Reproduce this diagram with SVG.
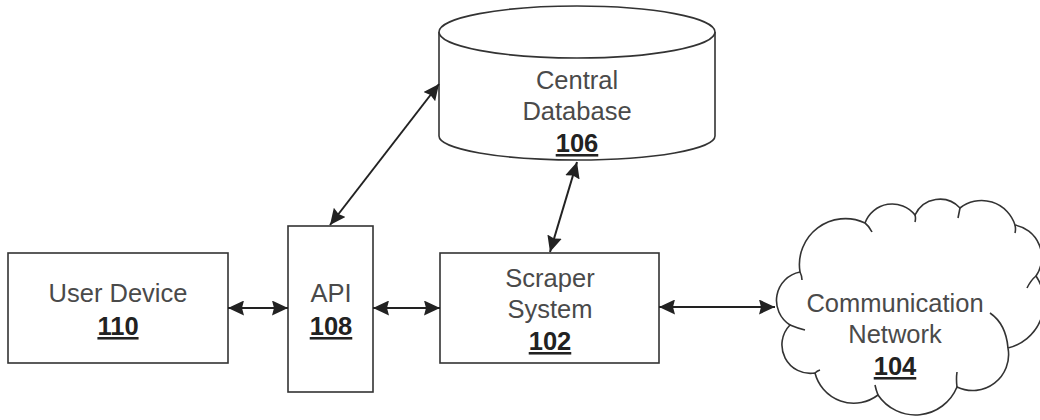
<svg xmlns="http://www.w3.org/2000/svg" width="1040" height="420" viewBox="0 0 1040 420">
<style>
.box{fill:#fff;stroke:#333;stroke-width:1.6}
.hook{fill:none;stroke:#333;stroke-width:1.6}
.lbl{font-family:"Liberation Sans",Arial,sans-serif;font-size:25.5px;fill:#4a4a4a;text-anchor:middle}
.num{font-family:"Liberation Sans",Arial,sans-serif;font-size:25.5px;font-weight:bold;fill:#222;text-anchor:middle;text-decoration:underline}
.conn{stroke:#222;stroke-width:2;fill:none;marker-start:url(#ah);marker-end:url(#ah)}
</style>
<defs>
<marker id="ah" markerUnits="userSpaceOnUse" markerWidth="17" markerHeight="15" refX="16" refY="7.5" orient="auto-start-reverse" viewBox="0 0 17 15">
<path d="M0,0 L16,7.5 L0,15 L2,7.5 z" fill="#222"/>
</marker>
</defs>
<rect width="1040" height="420" fill="#fff"/>
<g id="user-device">
<rect class="box" x="8" y="253" width="220" height="110"/>
<text class="lbl" x="118" y="302">User Device</text>
<text class="num" x="118" y="335">110</text>
</g>
<g id="api">
<rect class="box" x="288" y="226" width="85" height="166"/>
<text class="lbl" x="331" y="302">API</text>
<text class="num" x="331" y="335">108</text>
</g>
<g id="scraper-system">
<rect class="box" x="440" y="253" width="219" height="110"/>
<text class="lbl" x="550" y="287">Scraper</text>
<text class="lbl" x="550" y="318">System</text>
<text class="num" x="550" y="350">102</text>
</g>
<g id="central-database">
<path class="box" d="M439,32 L439,136 A138,24 0 0 0 715,136 L715,32"/>
<ellipse class="box" cx="577" cy="32" rx="138" ry="26"/>
<text class="lbl" x="577" y="89">Central</text>
<text class="lbl" x="577" y="120">Database</text>
<text class="num" x="577" y="152">106</text>
</g>
<g id="communication-network">
<path class="box" d="M800,272 A46,46 0 0 1 865,223 A29,29 0 0 1 915,215 A27.5,27.5 0 0 1 960,208 A35,35 0 0 1 1015,225 A33,33 0 0 1 1036,276 A47,47 0 0 1 1008,348 A36,36 0 0 1 957,387 A45,45 0 0 1 878,395 A40,40 0 0 1 815,373 A28.5,28.5 0 0 1 790,325 A29,29 0 0 1 800,272 Z"/>
<path class="hook" d="M800,272 Q802,276 802,280 M865,223 Q869,226 872,232 M915,215 Q916,218 915,222 M960,208 Q959,213 958,218 M1015,225 Q1016,229 1015,233 M1036,276 Q1031,280 1027,288 M1008,348 Q1006,324 990,313 M957,387 Q956,379 957,372 M878,395 Q876,390 875,385 M815,373 Q817,371 820,370 M790,325 Q797,328 805,330"/>
<text class="lbl" x="895" y="312">Communication</text>
<text class="lbl" x="895" y="343">Network</text>
<text class="num" x="895" y="375">104</text>
</g>
<g id="connectors">
<line class="conn" x1="228" y1="308" x2="288" y2="308"/>
<line class="conn" x1="373" y1="308" x2="440" y2="308"/>
<line class="conn" x1="659" y1="307" x2="775" y2="307"/>
<line class="conn" x1="330" y1="225" x2="439" y2="84"/>
<line class="conn" x1="550" y1="252" x2="577" y2="162"/>
</g>
</svg>
